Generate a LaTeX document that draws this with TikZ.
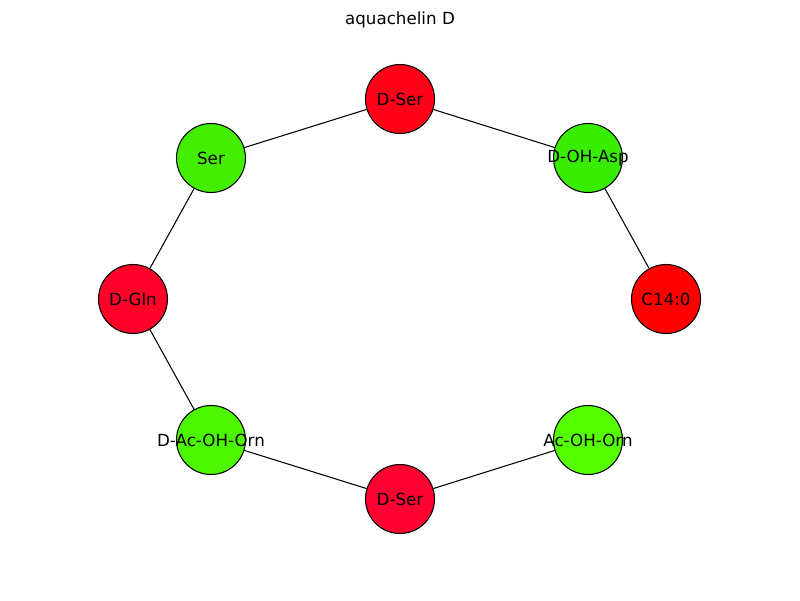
\documentclass[tikz,border=0pt]{standalone}
\usepackage{fontspec}
\setmainfont{DejaVu Sans}
\definecolor{serred}{HTML}{FF0018}
\definecolor{serredb}{HTML}{FF0033}
\definecolor{glnred}{HTML}{FF0028}
\definecolor{fared}{HTML}{FF0000}
\definecolor{aspgreen}{HTML}{38EE00}
\definecolor{sergreen}{HTML}{44EE00}
\definecolor{orngreen}{HTML}{4CF700}
\definecolor{orngreenb}{HTML}{55FF00}
\tikzset{res/.style={circle,draw,line width=0.6pt,minimum size=1.38cm,inner sep=0pt}}
\begin{document}
\begin{tikzpicture}[font=\fontsize{9.5}{11}\selectfont]
\useasboundingbox (0,0) rectangle (16,12);
\node (title) at (8,11.6) {aquachelin D};
\node (serT) at (8,10.02) [res,fill=serred,label=center:D-Ser] {};
\node (asp) at (11.76,8.84) [res,fill=aspgreen,label=center:D-OH-Asp] {};
\node (fa) at (13.32,6.02) [res,fill=fared,label=center:C14:0] {};
\node (orn) at (11.76,3.2) [res,fill=orngreenb,label=center:Ac-OH-Orn] {};
\node (serB) at (8,2.02) [res,fill=serredb,label=center:D-Ser] {};
\node (dorn) at (4.22,3.2) [res,fill=orngreen,label=center:D-Ac-OH-Orn] {};
\node (gln) at (2.66,6.02) [res,fill=glnred,label=center:D-Gln] {};
\node (ser) at (4.22,8.84) [res,fill=sergreen,label=center:Ser] {};
\draw[line width=0.6pt] (serT) -- (ser);
\draw[line width=0.6pt] (serT) -- (asp);
\draw[line width=0.6pt] (asp) -- (fa);
\draw[line width=0.6pt] (ser) -- (gln);
\draw[line width=0.6pt] (gln) -- (dorn);
\draw[line width=0.6pt] (dorn) -- (serB);
\draw[line width=0.6pt] (serB) -- (orn);
\end{tikzpicture}
\end{document}
